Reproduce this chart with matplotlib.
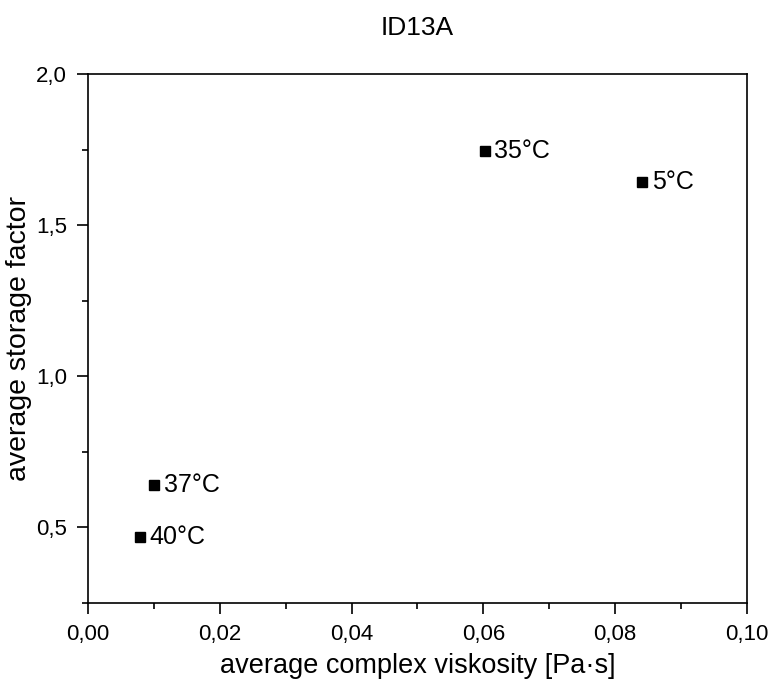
import matplotlib
matplotlib.use("Agg")
import matplotlib.pyplot as plt
from matplotlib.ticker import MultipleLocator, FuncFormatter

plt.rcParams['font.family'] = ['Liberation Sans', 'DejaVu Sans']

temps = ["35°C", "5°C", "37°C", "40°C"]
viscosity = [0.0602, 0.0841, 0.0100, 0.0079]
storage = [1.746, 1.643, 0.639, 0.470]

fig = plt.figure(figsize=(7.73, 6.88), dpi=100)
ax = fig.add_axes([0.1138, 0.1235, 0.8526, 0.769])

ax.plot(viscosity, storage, "s", color="black", markersize=7, linestyle="none")
for x, y, t in zip(viscosity, storage, temps):
    ax.annotate(t, (x, y), xytext=(7, 0), textcoords="offset points",
                va="center", ha="left", fontsize=18)

ax.set_xlim(0, 0.10)
ax.set_ylim(0.25, 2.0)
ax.xaxis.set_major_locator(MultipleLocator(0.02))
ax.xaxis.set_minor_locator(MultipleLocator(0.01))
ax.yaxis.set_major_locator(MultipleLocator(0.5))
ax.yaxis.set_minor_locator(MultipleLocator(0.25))
ax.xaxis.set_major_formatter(FuncFormatter(lambda v, p: f"{v:.2f}".replace(".", ",")))
ax.yaxis.set_major_formatter(FuncFormatter(lambda v, p: f"{v:.1f}".replace(".", ",")))
ax.tick_params(which="major", direction="out", length=8, width=1.2, labelsize=16, pad=7)
ax.tick_params(which="minor", direction="out", length=4, width=1.2)
for s in ax.spines.values():
    s.set_linewidth(1.2)

ax.set_xlabel("average complex viskosity [Pa·s]", fontsize=19.5, labelpad=6)
ax.set_ylabel("average storage factor", fontsize=20.5, labelpad=3)
ax.set_title("ID13A", fontsize=19, pad=28)

fig.savefig("out.png", dpi=100)
